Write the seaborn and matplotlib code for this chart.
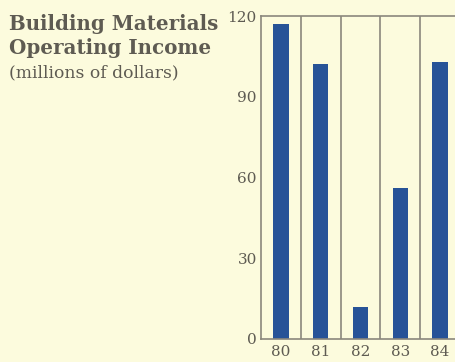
import matplotlib
matplotlib.use("Agg")
import matplotlib.pyplot as plt
import seaborn as sns
import pandas as pd

years = ["80", "81", "82", "83", "84"]
income = [117, 102, 12, 56, 103]
yticks = [0, 30, 60, 90, 120]

bg = "#FCFBDD"
bar_color = "#275397"
line_color = "#8A877C"
text_color = "#5E5B52"

sns.set_theme(style="white")
plt.rcParams["font.family"] = ["DejaVu Serif", "Liberation Serif"]

df = pd.DataFrame({"year": years, "income": income})

fig = plt.figure(figsize=(4.56, 3.62), dpi=100, facecolor=bg)
ax = fig.add_axes([261/456, 23/362, 199/456, 323/362])
ax.set_facecolor(bg)

sns.barplot(data=df, x="year", y="income", color=bar_color, width=0.39,
            saturation=1, ax=ax, edgecolor="none")

ax.set_xlim(-0.5, 4.5)
ax.set_ylim(0, 120)
for x in [0.5, 1.5, 2.5, 3.5]:
    ax.axvline(x, color=line_color, lw=1.2, zorder=0)
for s in ax.spines.values():
    s.set_color(line_color)
    s.set_linewidth(1.2)
ax.set_yticks(yticks)
ax.set_yticklabels([str(v) for v in yticks])
ax.tick_params(axis="both", length=0, labelsize=11, labelcolor=text_color)
ax.tick_params(axis="y", pad=3)
ax.tick_params(axis="x", pad=4)
ax.set_xlabel("")
ax.set_ylabel("")

fig.text(9/456, 1 - 30/362, "Building Materials", fontsize=14.3, fontweight="bold",
         color=text_color, va="baseline", ha="left")
fig.text(9/456, 1 - 54/362, "Operating Income", fontsize=14.3, fontweight="bold",
         color=text_color, va="baseline", ha="left")
fig.text(9/456, 1 - 77/362, "(millions of dollars)", fontsize=12.3,
         color=text_color, va="baseline", ha="left")

fig.savefig("out.png", dpi=100, facecolor=bg)
